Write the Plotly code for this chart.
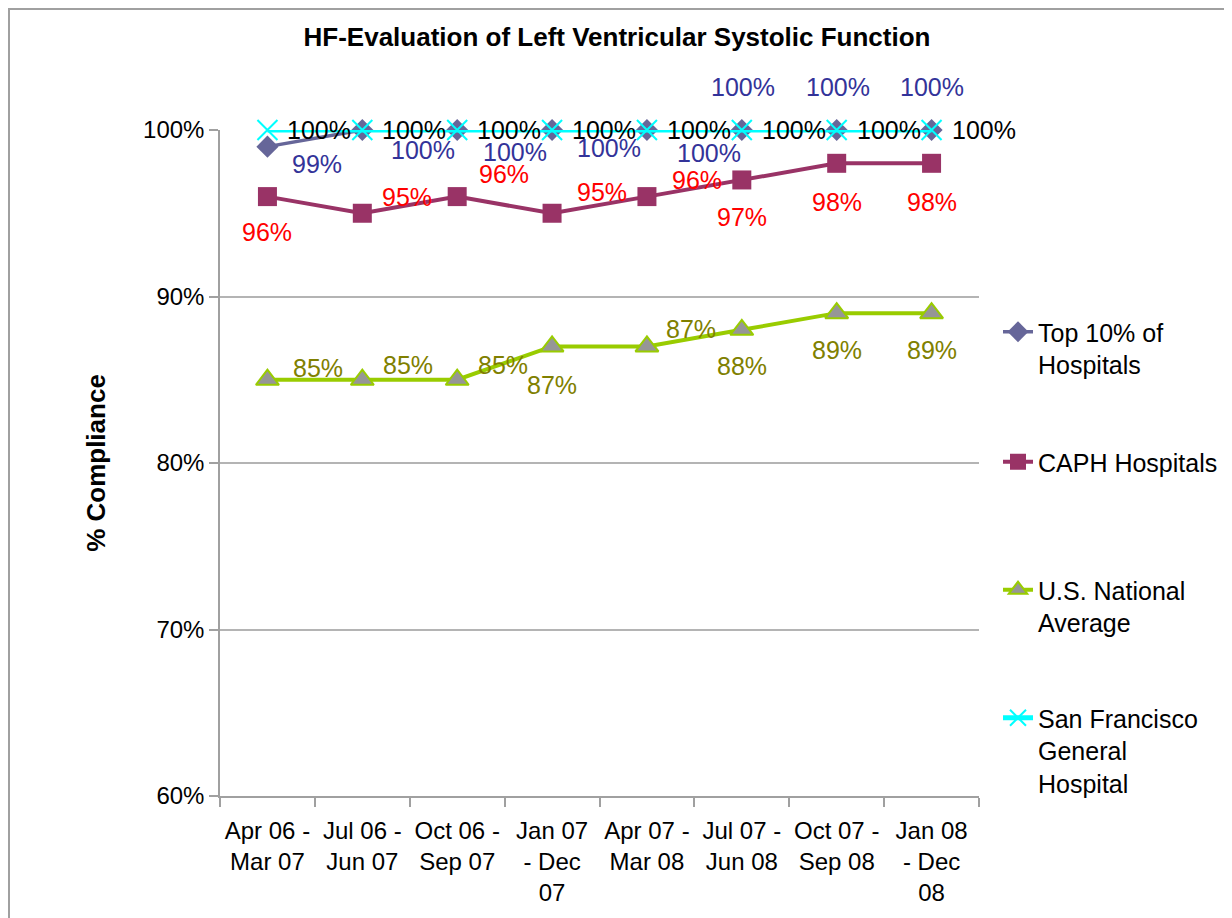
import plotly.graph_objects as go

# Data
periods = ['Apr 06 - Mar 07', 'Jul 06 - Jun 07', 'Oct 06 - Sep 07', 'Jan 07 - Dec 07',
           'Apr 07 - Mar 08', 'Jul 07 - Jun 08', 'Oct 07 - Sep 08', 'Jan 08 - Dec 08']
tick_labels = ['Apr 06 -<br>Mar 07', 'Jul 06 -<br>Jun 07', 'Oct 06 -<br>Sep 07', 'Jan 07<br>- Dec<br>07',
               'Apr 07 -<br>Mar 08', 'Jul 07 -<br>Jun 08', 'Oct 07 -<br>Sep 08', 'Jan 08<br>- Dec<br>08']
y_ticks = [60, 70, 80, 90, 100]
y_tick_labels = ['60%', '70%', '80%', '90%', '100%']
top10 = [99, 100, 100, 100, 100, 100, 100, 100]
caph = [96, 95, 96, 95, 96, 97, 98, 98]
us_avg = [85, 85, 85, 87, 87, 88, 89, 89]
sfgh = [100, 100, 100, 100, 100, 100, 100, 100]

FONT = 'Arial, Liberation Sans, sans-serif'
# the page has an 8px body margin, so screen positions are shifted by 8
OFF = 8
W, H = 1232, 918
ML = 220 - OFF
MT = 130 - OFF
PLOT_R = 979 - OFF
PLOT_B = 796 - OFF
MR = W - PLOT_R
MB = H - PLOT_B

# label offsets in px (dx right, dy up), like the dragged Excel data labels
top10_off = [(50, -17), (61, -20), (58, -22), (57, -18), (62, -23), (1, 43), (1, 43), (0, 43)]
caph_off = [(0, -35), (45, 16), (47, 23), (50, 21), (50, 17), (0, -37), (0, -39), (0, -39)]
us_off = [(51, 12), (46, 15), (46, 15), (0, -39), (44, 17), (0, -36), (0, -37), (0, -37)]
sf_off = [(52, 0)] * 8

series = [
    dict(name='Top 10% of<br>Hospitals', y=top10, color='#666699', lw=3.5,
         marker=dict(symbol='diamond', size=17, color='#666699'),
         lab='#333399', off=top10_off, legend='legend'),
    dict(name='CAPH Hospitals', y=caph, color='#993366', lw=4,
         marker=dict(symbol='square', size=19, color='#993366'),
         lab='#FF0000', off=caph_off, legend='legend2'),
    dict(name='U.S. National<br>Average', y=us_avg, color='#99CC00', lw=4,
         marker=dict(symbol='triangle-up', size=20, color='#969696',
                     line=dict(color='#99CC00', width=2)),
         lab='#808000', off=us_off, legend='legend3'),
    dict(name='San Francisco<br>General<br>Hospital', y=sfgh, color='#00FFFF', lw=5,
         marker=dict(symbol='x-thin', size=20, line=dict(color='#00FFFF', width=2)),
         lab='#000000', off=sf_off, legend='legend4'),
]

fig = go.Figure()
annotations = []
for s in series:
    fig.add_trace(go.Scatter(
        x=periods, y=s['y'], name=s['name'], mode='lines+markers',
        line=dict(color=s['color'], width=s['lw']), marker=s['marker'],
        cliponaxis=False, legend=s['legend'], showlegend=True
    ))
    for p, v, (dx, dy) in zip(periods, s['y'], s['off']):
        annotations.append(dict(
            x=p, y=v, xref='x', yref='y', text=f'{v}%', showarrow=False,
            xshift=dx, yshift=dy, font=dict(family=FONT, size=25, color=s['lab'])
        ))

pw = PLOT_R - ML
ph = PLOT_B - MT


def px_x(sx):
    # screen x -> paper fraction
    return (sx - OFF - ML) / pw


def px_y(sy):
    # screen y -> paper fraction
    return (PLOT_B - (sy - OFF)) / ph


legend_centers = [333, 462, 590, 718]
legend_style = dict(xanchor='left', yanchor='top', x=px_x(998), bgcolor='rgba(0,0,0,0)',
                    font=dict(family=FONT, size=25, color='#000000'), valign='top')

fig.update_layout(
    width=W, height=H,
    margin=dict(l=ML, r=MR, t=MT, b=MB),
    paper_bgcolor='white', plot_bgcolor='white',
    showlegend=True,
    font=dict(family=FONT, size=24, color='#000000'),
    title=dict(text='<b>HF-Evaluation of Left Ventricular Systolic Function</b>',
               x=(617 - OFF) / W, xanchor='center', y=1 - (37 - OFF) / H, yanchor='middle',
               font=dict(family=FONT, size=26, color='#000000')),
    xaxis=dict(type='category', categoryorder='array', categoryarray=periods,
               tickvals=periods, ticktext=tick_labels, tickson='boundaries',
               ticks='outside', ticklen=9, tickcolor='#A0A0A0', tickwidth=1.5,
               showline=True, linecolor='#A0A0A0', linewidth=1.5, showgrid=False,
               range=[-0.5, 7.5], ticklabelstandoff=12,
               tickfont=dict(family=FONT, size=24)),
    yaxis=dict(range=[60, 100], tickvals=y_ticks, ticktext=y_tick_labels,
               ticks='outside', ticklen=9, tickcolor='#A0A0A0', tickwidth=1.5,
               showline=True, linecolor='#A0A0A0', linewidth=1.5,
               showgrid=True, gridcolor='#B4B4B4', gridwidth=1.5, zeroline=False,
               tickfont=dict(family=FONT, size=24),
               title=dict(text='<b>% Compliance</b>', standoff=30,
                          font=dict(family=FONT, size=26))),
    legend=dict(y=px_y(legend_centers[0] - 24), **legend_style),
    legend2=dict(y=px_y(legend_centers[1] - 23), **legend_style),
    legend3=dict(y=px_y(legend_centers[2] - 23), **legend_style),
    legend4=dict(y=px_y(legend_centers[3] - 23), **legend_style),
    annotations=annotations,
    shapes=[
        # outer chart border
        dict(type='rect', xref='paper', yref='paper',
             x0=px_x(OFF + 1), x1=px_x(1230), y0=px_y(940), y1=px_y(OFF + 1),
             line=dict(color='#A0A0A0', width=2), fillcolor='rgba(0,0,0,0)',
             layer='below'),
        # legend area hides the end of the gridlines
        dict(type='rect', xref='paper', yref='paper',
             x0=px_x(971), x1=1.01, y0=0.003, y1=1.01,
             line=dict(width=0), fillcolor='white', layer='between'),
    ],
)

fig.write_html('out.html')
